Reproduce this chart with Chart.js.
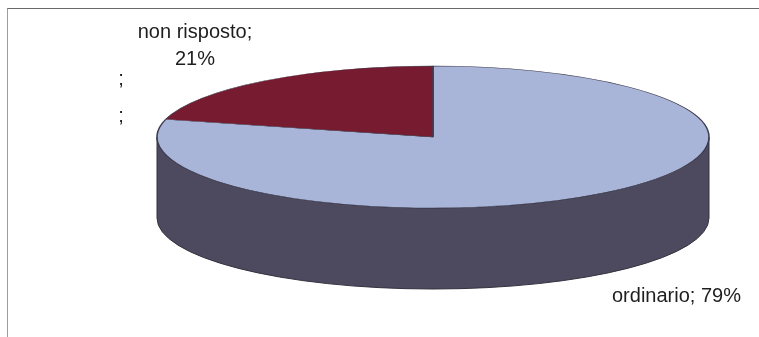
<!DOCTYPE html>
<html>
<head>
<meta charset="utf-8">
<script src="https://cdn.jsdelivr.net/npm/chart.js@4/dist/chart.umd.min.js"></script>
<style>
  html, body { margin: 0; padding: 0; background: #fff; }
  #wrap { position: relative; width: 759px; height: 337px; overflow: hidden; }
  #frame { position: absolute; left: 7px; top: 8px; width: 800px; height: 400px;
           border-top: 1px solid #6a6a6a; border-left: 1px solid #9c9c9c; }
  #chart { position: absolute; left: 0; top: 0; }
</style>
</head>
<body>
<div id="wrap">
  <div id="frame"></div>
  <canvas id="chart" width="759" height="337"></canvas>
</div>
<script>
// data
const categories = ['ordinario', 'non risposto', '', ''];
const values = [79, 21, null, null];

// look
const topColors = ['#a9b4d9', '#771b30', '#a9b4d9', '#a9b4d9'];
const sideColors = ['#4d4a5f', '#4a1420', '#4d4a5f', '#4d4a5f'];
const view = { cx: 433, cy: 137, rx: 276, ry: 71, depth: 81 };
const labelLayout = [
    { x: 612, y: 302, align: 'left', wrap: false },
    { x: 195, y: 38, align: 'center', wrap: true },
    { x: 121, y: 85, align: 'center', wrap: false },
    { x: 121, y: 122, align: 'center', wrap: false }
];

const total = values.reduce((s, v) => s + (v || 0), 0);

const applyView = (ctx, arc) => {
    ctx.translate(view.cx, view.cy);
    ctx.scale(view.rx / arc.outerRadius, view.ry / arc.outerRadius);
    ctx.translate(-arc.x, -arc.y);
};

// side of the cylinder, only the front half (0..PI) shows
const pie3d = {
    id: 'pie3d',
    beforeDatasetsDraw(chart) {
        const ctx = chart.ctx;
        const arcs = chart.getDatasetMeta(0).data;
        ctx.save();
        arcs.forEach((arc, i) => {
            const TAU = Math.PI * 2;
            let a = arc.startAngle, b = arc.endAngle;
            if (b - a <= 0) return;
            for (let k = -1; k <= 1; k++) {
                const s = Math.max(a + k * TAU, 0);
                const e = Math.min(b + k * TAU, Math.PI);
                if (e <= s) continue;
                ctx.beginPath();
                ctx.ellipse(view.cx, view.cy, view.rx, view.ry, 0, s, e);
                ctx.ellipse(view.cx, view.cy + view.depth, view.rx, view.ry, 0, e, s, true);
                ctx.closePath();
                ctx.fillStyle = sideColors[i];
                ctx.fill();
                ctx.strokeStyle = '#33323f';
                ctx.lineWidth = 1;
                ctx.stroke();
            }
        });
        ctx.restore();
        ctx.save();
        if (arcs.length) applyView(ctx, arcs[0]);
    },
    afterDatasetsDraw(chart) {
        chart.ctx.restore();
    },
    afterDraw(chart) {
        const ctx = chart.ctx;
        ctx.save();
        ctx.fillStyle = '#1e1e1e';
        ctx.font = '20px "Liberation Sans", Arial, sans-serif';
        ctx.textBaseline = 'alphabetic';
        categories.forEach((c, i) => {
            const lay = labelLayout[i];
            const v = values[i];
            const pct = v != null ? Math.round(v / total * 100) + '%' : '';
            ctx.textAlign = lay.align;
            if (lay.wrap) {
                ctx.fillText(c + ';', lay.x, lay.y);
                ctx.fillText(pct, lay.x, lay.y + 27);
            } else {
                ctx.fillText(c + ';' + (pct ? ' ' + pct : ''), lay.x, lay.y);
            }
        });
        ctx.restore();
    }
};

new Chart(document.getElementById('chart'), {
    type: 'pie',
    data: {
        labels: categories,
        datasets: [{
            data: values,
            backgroundColor: topColors,
            borderColor: '#3c3b4c',
            borderWidth: 0.8
        }]
    },
    options: {
        responsive: false,
        animation: false,
        events: [],
        layout: { padding: 20 },
        plugins: {
            legend: { display: false },
            tooltip: { enabled: false }
        }
    },
    plugins: [pie3d]
});
</script>
</body>
</html>
